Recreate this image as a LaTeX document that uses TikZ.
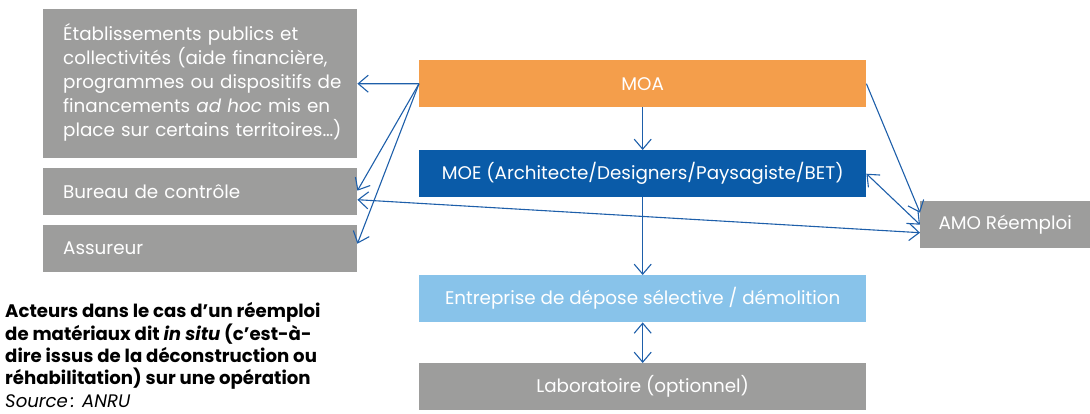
\documentclass[tikz,border=0pt]{standalone}
\usepackage{fontspec}
\setmainfont{Poppins}
\usetikzlibrary{arrows.meta,calc}
\definecolor{cOrange}{HTML}{F49E4B}
\definecolor{cBlue}{HTML}{0A5BA8}
\definecolor{cLight}{HTML}{88C3EA}
\definecolor{cGray}{HTML}{9D9D9C}
\definecolor{cLine}{HTML}{1E5FAA}
\begin{document}
\begin{tikzpicture}[x=1bp,y=-1bp,
  every node/.style={font=\fontsize{18.4}{23.8}\selectfont},
  boxbase/.style={rectangle, draw=none, text=white, inner sep=0pt, anchor=north west},
  leftbox/.style={boxbase, fill=cGray, minimum width=314bp, text width=274bp, align=left, inner xsep=20bp},
  midbox/.style={boxbase, minimum width=447bp, minimum height=47bp, align=center},
  conn/.style={draw=cLine, line width=1.1bp, -{Straight Barb[length=10bp,width=17bp]}},
  dconn/.style={draw=cLine, line width=1.1bp, {Straight Barb[length=10bp,width=17bp]}-{Straight Barb[length=10bp,width=17bp]}}
]
\useasboundingbox (0,0) rectangle (1090,413);
\node[leftbox, minimum height=149bp] (etab) at (43,9) {\begin{tabular}{@{}l@{}}Établissements publics et\\ collectivités (aide financière,\\ programmes ou dispositifs de\\ financements \textit{ad hoc} mis en\\ place sur certains territoires…)\end{tabular}};
\node[leftbox, minimum height=47bp] (bureau) at (43,168) {Bureau de contrôle};
\node[leftbox, minimum height=47bp] (assur) at (43,225) {Assureur};
\node[midbox, fill=cOrange] (moa) at (419,60) {MOA};
\node[midbox, fill=cBlue] (moe) at (419,150) {MOE (Architecte/Designers/Paysagiste/BET)};
\node[midbox, fill=cLight] (entr) at (419,275) {Entreprise de dépose sélective / démolition};
\node[midbox, fill=cGray] (labo) at (419,363) {Laboratoire (optionnel)};
\node[boxbase, fill=cGray, minimum width=170bp, minimum height=47bp] (amo) at (920,201) {AMO Réemploi};
\node[anchor=north west, inner sep=0pt, align=left, text=black, font=\fontsize{18.2}{22.4}\selectfont] (cap) at (5,302.5)
 {\textbf{Acteurs dans le cas d’un réemploi}\\ \textbf{de matériaux dit \textit{in situ} (c’est-à-}\\ \textbf{dire issus de la déconstruction ou}\\ \textbf{réhabilitation) sur une opération}\\ \textit{Source\,: ANRU}};
\draw[conn] (moa.west) -- (etab.east);
\draw[conn] (moa.west) -- ([yshift=1bp]bureau.east);
\draw[conn] (moa.west) -- ([yshift=5bp]assur.east);
\draw[conn] (moa.south) -- (moe.north);
\draw[conn] (moe.south) -- (entr.north);
\draw[dconn] (entr.south) -- (labo.north);
\draw[conn] (moa.east) -- ([yshift=12bp]amo.west);
\draw[dconn] (moe.east) -- (amo.west);
\draw[dconn] ([yshift=-8bp]bureau.east) -- ([yshift=-8bp]amo.west);
\end{tikzpicture}
\end{document}
